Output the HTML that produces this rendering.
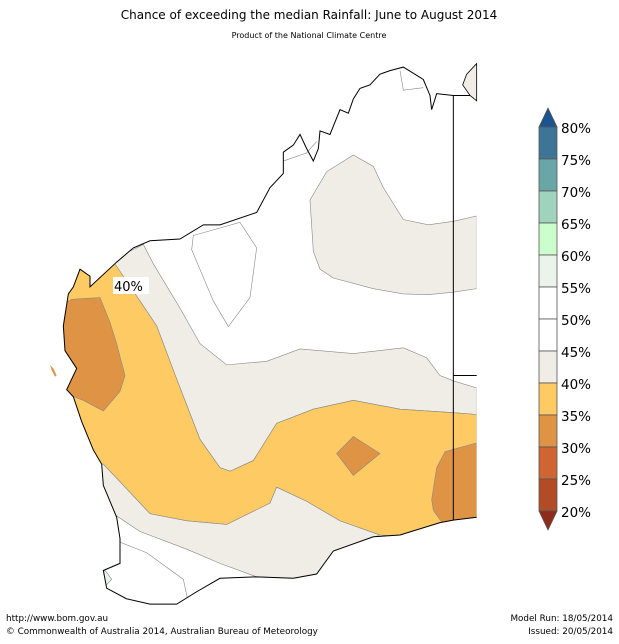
<!DOCTYPE html>
<html><head><meta charset="utf-8"><style>
body{margin:0;background:#fff;width:619px;height:640px;overflow:hidden;font-family:"DejaVu Sans","Liberation Sans",sans-serif}
</style></head><body>
<svg width="619" height="640" xmlns="http://www.w3.org/2000/svg" font-family="DejaVu Sans, Liberation Sans, sans-serif">
<text x="309" y="19" font-size="12" text-anchor="middle">Chance of exceeding the median Rainfall: June to August 2014</text>
<text x="309" y="38" font-size="8" text-anchor="middle">Product of the National Climate Centre</text>
<defs><clipPath id="land"><path d="M1090,20 L1150,55 L1190,95 L1240,100 L1310,100 L1310,1290 L1240,1298 L1200,1305 L1080,1340 L1000,1345 L880,1385 L830,1450 L760,1462 L650,1458 L540,1462 L470,1500 L410,1535 L330,1535 L260,1520 L200,1490 L190,1440 L240,1420 L240,1350 L230,1290 L190,1200 L185,1140 L160,1100 L125,1020 L100,950 L80,930 L110,870 L75,820 L70,750 L85,660 L100,640 L120,590 L150,610 L150,640 L230,570 L280,530 L330,510 L420,505 L490,465 L540,465 L650,430 L690,360 L730,320 L730,260 L780,210 L840,200 L900,140 L960,80 L1020,40 Z"/></clipPath></defs>
<g transform="translate(40,60) scale(0.33333,0.3545)">
<g clip-path="url(#land)" stroke="#888" stroke-width="0.6" vector-effect="non-scaling-stroke">
<path fill="#f0ece6" vector-effect="non-scaling-stroke" d="M810,395 L860,315 L940,268 L1000,300 L1030,360 L1090,450 L1165,465 L1240,455 L1310,440 L1310,645 L1240,655 L1165,662 L1090,660 L1000,645 L880,615 L840,590 L820,540 Z"/>
<path fill="#f0ece6" vector-effect="non-scaling-stroke" d="M200,560 L280,535 L310,520 L340,575 L420,700 L480,800 L560,860 L680,850 L780,815 L940,828 L1090,812 L1160,840 L1200,890 L1240,905 L1310,925 L1310,1000 L1240,995 L1080,985 L940,960 L820,985 L710,1025 L640,1130 L570,1160 L540,1150 L480,1070 L410,900 L350,750 L300,680 Z"/>
<path fill="#fff" vector-effect="non-scaling-stroke" d="M460,495 L600,458 L650,530 L630,670 L565,752 L520,680 L455,535 Z"/>
<path fill="#fdca63" vector-effect="non-scaling-stroke" d="M60,660 L60,560 L150,600 L225,575 L300,680 L350,750 L410,900 L480,1070 L540,1150 L570,1160 L640,1130 L710,1025 L820,985 L940,960 L1080,985 L1240,995 L1310,1000 L1310,1360 L1020,1340 L900,1300 L800,1245 L710,1205 L690,1250 L590,1305 L560,1310 L440,1300 L330,1280 L290,1240 L190,1140 L60,1140 Z"/>
<path fill="#f0ece6" vector-effect="non-scaling-stroke" d="M150,1140 L190,1140 L290,1240 L330,1280 L440,1300 L560,1310 L690,1250 L710,1205 L800,1245 L900,1300 L1020,1340 L880,1385 L830,1450 L760,1462 L650,1458 L540,1420 L440,1380 L300,1330 L220,1280 L150,1200 Z"/>
<path fill="#df9445" vector-effect="non-scaling-stroke" d="M95,675 L180,670 L210,740 L230,800 L255,890 L240,935 L190,990 L130,960 L60,935 L50,700 Z"/>
<path fill="#df9445" vector-effect="non-scaling-stroke" d="M890,1110 L940,1062 L1020,1110 L940,1172 Z"/>
<path fill="#df9445" vector-effect="non-scaling-stroke" d="M1215,1105 L1310,1080 L1310,1320 L1210,1310 L1180,1270 L1175,1240 L1190,1150 Z"/>
<path fill="#e8f3e8" vector-effect="non-scaling-stroke" d="M185,1435 L200,1445 L215,1465 L200,1480 L187,1480 Z"/>
<path fill="none" vector-effect="non-scaling-stroke" d="M240,1360 L320,1390 L430,1465 L445,1530"/>
<path fill="none" vector-effect="non-scaling-stroke" d="M730,285 L800,262 L830,230"/>
<path fill="none" vector-effect="non-scaling-stroke" d="M1080,30 L1090,85 L1150,78"/>
</g>
<path fill="none" stroke="#000" stroke-width="1" vector-effect="non-scaling-stroke" d="M1310,1290 L1240,1298 L1200,1305 L1080,1340 L1000,1345 L880,1385 L830,1450 L760,1462 L650,1458 L540,1462 L470,1500 L410,1535 L330,1535 L260,1520 L200,1490 L190,1440 L240,1420 L240,1350 L230,1290 L190,1200 L185,1140 L160,1100 L125,1020 L100,950 L80,930 L110,870 L75,820 L70,750 L85,660 L100,640 L120,590 L150,610 L150,640 L230,570 L280,530 L330,510 L420,505 L490,465 L540,465 L650,430 L690,360 L730,320 L730,260 L760,240 L780,210 L800,250 L820,285 L835,250 L840,200 L870,210 L900,140 L925,150 L940,110 L960,80 L990,70 L1020,40 L1050,30 L1090,20 L1150,55 L1170,100 L1175,140 L1190,95 L1240,100 L1310,100"/>
<path fill="none" stroke="#000" stroke-width="1" vector-effect="non-scaling-stroke" d="M1240,100 L1240,1298 M1240,890 L1310,890"/>
<path fill="#f0ece6" stroke="#000" stroke-width="0.8" vector-effect="non-scaling-stroke" d="M1310,10 L1280,40 L1268,70 L1290,100 L1310,115 Z"/>
<path fill="#df9445" d="M30,860 L40,870 L50,890 L45,893 L35,875 Z"/>
</g>
<rect x="113" y="277" width="36" height="17" fill="#fff"/>
<text x="114" y="291" font-size="13">40%</text>
<g stroke="#555" stroke-width="0.8">
<polygon points="539,127 548,108 557,127" fill="#1a5591"/>
<rect x="539" y="127" width="18" height="32" fill="#3e7597"/>
<rect x="539" y="159" width="18" height="32" fill="#6ba6a6"/>
<rect x="539" y="191" width="18" height="32" fill="#9fd3bd"/>
<rect x="539" y="223" width="18" height="32" fill="#ccfdcc"/>
<rect x="539" y="255" width="18" height="32" fill="#ebf4ea"/>
<rect x="539" y="287" width="18" height="32" fill="#fff"/>
<rect x="539" y="319" width="18" height="32" fill="#fff"/>
<rect x="539" y="351" width="18" height="32" fill="#f0ece6"/>
<rect x="539" y="383" width="18" height="32" fill="#fdca63"/>
<rect x="539" y="415" width="18" height="32" fill="#df9445"/>
<rect x="539" y="447" width="18" height="32" fill="#cf6532"/>
<rect x="539" y="479" width="18" height="32" fill="#b24c26"/>
<polygon points="539,511 548,530 557,511" fill="#8e2b1a"/>
</g>
<g font-size="13.5" fill="#000">
<text x="561" y="133">80%</text><text x="561" y="165">75%</text><text x="561" y="197">70%</text><text x="561" y="229">65%</text><text x="561" y="261">60%</text><text x="561" y="293">55%</text><text x="561" y="325">50%</text><text x="561" y="357">45%</text><text x="561" y="389">40%</text><text x="561" y="421">35%</text><text x="561" y="453">30%</text><text x="561" y="485">25%</text><text x="561" y="517">20%</text>
</g>
<g font-size="8.8">
<text x="6" y="621">http://www.bom.gov.au</text>
<text x="6" y="634">©  Commonwealth of Australia 2014, Australian Bureau of Meteorology</text>
<text x="613" y="621" text-anchor="end">Model Run: 18/05/2014</text>
<text x="613" y="634" text-anchor="end">Issued: 20/05/2014</text>
</g>
</svg>
</body></html>
